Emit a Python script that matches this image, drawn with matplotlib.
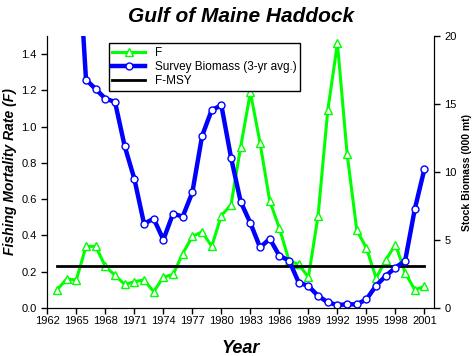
import numpy as np
import matplotlib.pyplot as plt

plt.rcParams['font.family'] = ['Liberation Sans', 'DejaVu Sans']

# Fishing mortality (F), 1963-2001
f_years = np.arange(1963, 2002)
f_values = [0.10, 0.16, 0.155, 0.34, 0.34, 0.23, 0.18, 0.13, 0.145, 0.155,
            0.09, 0.17, 0.185, 0.30, 0.395, 0.42, 0.34, 0.51, 0.57, 0.89,
            1.19, 0.91, 0.59, 0.44, 0.26, 0.24, 0.17, 0.51, 1.09, 1.46,
            0.85, 0.43, 0.33, 0.165, 0.265, 0.35, 0.195, 0.10, 0.12]

# Survey biomass (3-yr avg.), 000 mt, 1965-2001
b_years = np.arange(1965, 2002)
b_values = [28.5, 16.8, 16.1, 15.4, 15.15, 11.9, 9.5, 6.2, 6.57, 5.02,
            6.94, 6.72, 8.51, 12.64, 14.56, 14.9, 11.05, 7.8, 6.25, 4.45,
            5.09, 3.84, 3.49, 1.87, 1.62, 0.89, 0.42, 0.22, 0.27, 0.27,
            0.64, 1.65, 2.36, 2.97, 3.47, 7.28, 10.24]

fmsy_years = [1963, 2001]
fmsy = 0.23

fig = plt.figure(figsize=(4.75, 3.56), dpi=100)
ax = fig.add_axes([0.0996, 0.1348, 0.8144, 0.764])
ax2 = ax.twinx()

l1, = ax.plot(f_years, f_values, color='#00ff00', lw=2.2, marker='^', ms=6,
              mfc='white', mec='#00ff00', mew=1, label='F')
l3, = ax.plot(fmsy_years, [fmsy, fmsy], color='black', lw=2, label='F-MSY')
l2, = ax2.plot(b_years, b_values, color='#0000ff', lw=3.2, marker='o', ms=5,
               mfc='white', mec='#0000ff', mew=1, label='Survey Biomass (3-yr avg.)')

ax.set_xlim(1962, 2002)
ax.set_ylim(0, 1.5)
ax2.set_ylim(0, 20)
ax.set_xticks(np.arange(1962, 2002, 3))
ax.set_yticks(np.arange(0, 1.41, 0.2))
ax.set_yticklabels(['%.1f' % v for v in np.arange(0, 1.41, 0.2)])
ax2.set_yticks([0, 5, 10, 15, 20])

for a in (ax, ax2):
    a.spines['top'].set_visible(False)
    a.tick_params(labelsize=8, length=4, width=1, direction='out')
ax.tick_params(axis='x', labelsize=8, pad=2)

ax.set_title('Gulf of Maine Haddock', fontsize=15, fontweight='bold',
             style='italic', pad=10)
ax.set_xlabel('Year', fontsize=13, fontweight='bold', style='italic', labelpad=10)
ax.set_ylabel('Fishing Mortality Rate (F)', fontsize=10, fontweight='bold',
              style='italic', labelpad=3)
ax2.set_ylabel('Stock Biomass (000 mt)', fontsize=7.5, fontweight='bold', labelpad=4)

leg = ax2.legend(handles=[l1, l2, l3], loc='upper left',
                 bbox_to_anchor=(0.159, 0.974), borderaxespad=0, fontsize=8.5,
                 frameon=True, fancybox=False, edgecolor='black', framealpha=1,
                 handlelength=2.8, borderpad=0.3, labelspacing=0.2)
leg.get_frame().set_linewidth(1)
leg.set_zorder(10)

fig.savefig('out.png', dpi=100)
